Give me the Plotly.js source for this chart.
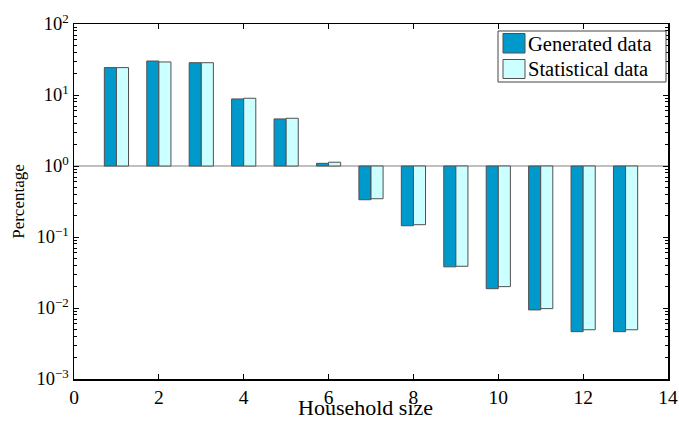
<!DOCTYPE html>
<html>
<head>
<meta charset="utf-8">
<script src="https://cdn.plot.ly/plotly-3.0.1.min.js"></script>
<style>html,body{margin:0;padding:0;background:#fff}</style>
</head>
<body>
<div id="chart" style="width:679px;height:421px"></div>
<script>
const householdSize = [1,2,3,4,5,6,7,8,9,10,11,12,13];
const generatedData = [24.3,30.1,28.5,8.8,4.6,1.09,0.335,0.144,0.038,0.0187,0.0094,0.00464,0.00464];
const statisticalData = [24.3,29.2,28.5,9.0,4.7,1.13,0.346,0.149,0.0387,0.020,0.0098,0.00494,0.00494];
const seriesNames = ["Generated data","Statistical data"];
const yTickVals = [0.001,0.01,0.1,1,10,100];
const yTickText = ["10<sup>\u22123</sup>","10<sup>\u22122</sup>","10<sup>\u22121</sup>","10<sup>0</sup>","10<sup>1</sup>","10<sup>2</sup>"];
const xTickVals = [0,2,4,6,8,10,12,14];

const baseline = 1;
const colors = ["#0099cc","#ccffff"];

const minorVals = [];
for (let e = -3; e < 2; e++) for (let k = 2; k <= 9; k++) minorVals.push(k*Math.pow(10,e));

function barTrace(vals, name, color){
  return {
    type:'bar', name:name, x:householdSize,
    y: vals.map(v => v - baseline), base: baseline,
    marker:{color:color, line:{color:'#505050', width:1}},
    showlegend:false, hoverinfo:'skip'
  };
}

const font = {family:'"Liberation Serif", "Times New Roman", serif', color:'#000'};

// plot area in pixels: x 74..668, y 24..379
const L=74, R=668, T=24, B=379;
const px = v => (v - L)/(R - L);
const py = v => (B - v)/(B - T);

const shapes = [
  {type:'line', xref:'paper', yref:'y', x0:0, x1:1, y0:baseline, y1:baseline, line:{color:'#808080', width:1}, layer:'below'},
  {type:'rect', xref:'paper', yref:'paper', x0:px(498), x1:px(666), y0:py(82), y1:py(31), line:{color:'#444', width:1}, fillcolor:'#fff'},
  {type:'rect', xref:'paper', yref:'paper', x0:px(503), x1:px(525), y0:py(53), y1:py(33.5), line:{color:'#505050', width:1}, fillcolor:colors[0]},
  {type:'rect', xref:'paper', yref:'paper', x0:px(503), x1:px(525), y0:py(78.5), y1:py(59.5), line:{color:'#505050', width:1}, fillcolor:colors[1]}
];
const annotations = [
  {xref:'paper', yref:'paper', x:px(526), y:py(43.5), xanchor:'left', yanchor:'middle', text:seriesNames[0], showarrow:false, font:Object.assign({size:20.5}, font)},
  {xref:'paper', yref:'paper', x:px(526), y:py(69), xanchor:'left', yanchor:'middle', text:seriesNames[1], showarrow:false, font:Object.assign({size:20.5}, font)},
  {xref:'paper', yref:'paper', x:px(365), y:py(421), xanchor:'center', yanchor:'bottom', text:'Household size', showarrow:false, borderpad:0, font:Object.assign({size:22}, font)}
];

const layout = {
  width:679, height:421,
  margin:{l:L, r:679-R, t:T, b:421-B, pad:0},
  paper_bgcolor:'#fff', plot_bgcolor:'#fff',
  barmode:'group', bargap:0.43, bargroupgap:0,
  font:font,
  xaxis:{
    range:[0,14], tickmode:'array', tickvals:xTickVals,
    ticks:'inside', ticklen:5, tickwidth:1, tickcolor:'#000',
    showline:true, linecolor:'#000', linewidth:1.5, mirror:'ticks',
    showgrid:false, zeroline:false,
    tickfont:Object.assign({size:19.5}, font)
  },
  yaxis:{
    type:'log', range:[-3,2], tickmode:'array', tickvals:yTickVals, ticktext:yTickText,
    ticks:'inside', ticklen:5, tickwidth:1, tickcolor:'#000',
    minor:{tickmode:'array', tickvals:minorVals, ticks:'inside', ticklen:3, tickwidth:1, tickcolor:'#000', showgrid:false},
    showline:true, linecolor:'#000', linewidth:1.5, mirror:'ticks',
    showgrid:false, zeroline:false,
    tickfont:Object.assign({size:18.5}, font),
    title:{text:'Percentage', font:Object.assign({size:17}, font), standoff:7}
  },
  shapes:shapes, annotations:annotations, showlegend:false
};

Plotly.newPlot('chart', [barTrace(generatedData, seriesNames[0], colors[0]), barTrace(statisticalData, seriesNames[1], colors[1])], layout, {displayModeBar:false, staticPlot:true});
</script>
</body>
</html>
